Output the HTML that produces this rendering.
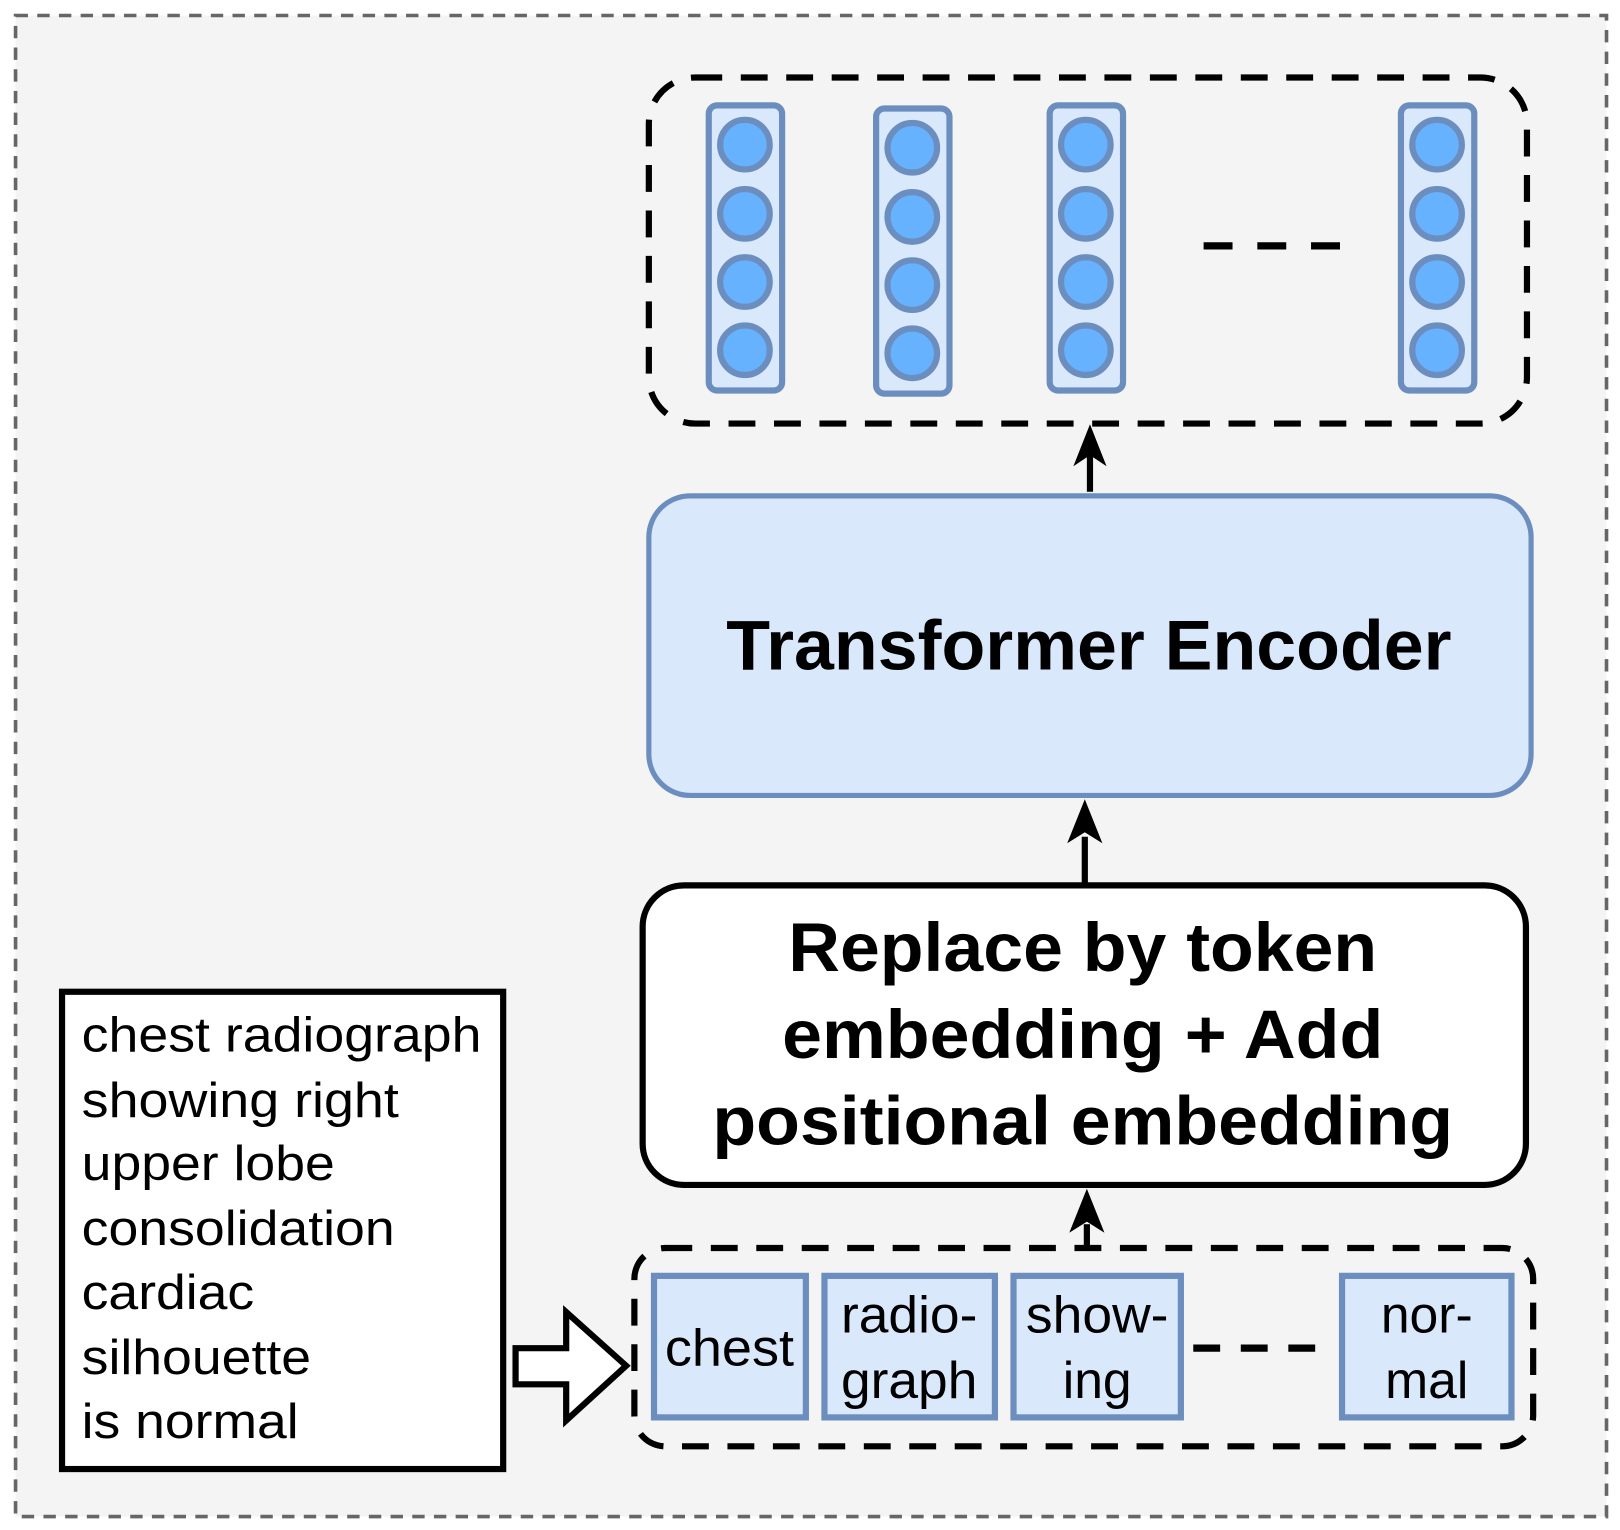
<!DOCTYPE html>
<html><head><meta charset="utf-8"><style>html,body{margin:0;padding:0;background:#fff}svg{display:block}</style></head>
<body>
<svg width="1620" height="1530" viewBox="0 0 1568 1481" xmlns="http://www.w3.org/2000/svg" font-family="Liberation Sans, sans-serif">
<rect x="15" y="15" width="1540" height="1453" fill="#f4f4f4" stroke="#666" stroke-width="3.5" stroke-dasharray="12,9"/>
<rect x="628" y="75" width="850" height="335" rx="45" fill="none" stroke="#000" stroke-width="6" stroke-dasharray="26,18"/>
<g stroke="#6c8ebf" stroke-width="6">
<rect x="686" y="102" width="71" height="276" rx="8" fill="#dae8fc"/>
<rect x="848" y="105" width="71" height="276" rx="8" fill="#dae8fc"/>
<rect x="1016" y="102" width="71" height="276" rx="8" fill="#dae8fc"/>
<rect x="1356" y="102" width="71" height="276" rx="8" fill="#dae8fc"/>
<g fill="#66b2ff">
<circle cx="721" cy="140" r="24"/><circle cx="721" cy="207" r="24"/><circle cx="721" cy="273" r="24"/><circle cx="721" cy="339" r="24"/>
<circle cx="883" cy="143" r="24"/><circle cx="883" cy="210" r="24"/><circle cx="883" cy="276" r="24"/><circle cx="883" cy="342" r="24"/>
<circle cx="1051" cy="140" r="24"/><circle cx="1051" cy="207" r="24"/><circle cx="1051" cy="273" r="24"/><circle cx="1051" cy="339" r="24"/>
<circle cx="1391" cy="140" r="24"/><circle cx="1391" cy="207" r="24"/><circle cx="1391" cy="273" r="24"/><circle cx="1391" cy="339" r="24"/>
</g></g>
<line x1="1165" y1="238" x2="1297" y2="238" stroke="#000" stroke-width="7" stroke-dasharray="28,24"/>
<g stroke="#000" stroke-width="6" fill="#000">
<line x1="1055" y1="476" x2="1055" y2="440"/>
<polygon points="1055,412 1040,450 1055,440 1070,450" stroke-width="1"/>
<line x1="1050" y1="856" x2="1050" y2="810"/>
<polygon points="1050,775 1034,815 1050,805 1066,815" stroke-width="1"/>
<line x1="1052" y1="1208" x2="1052" y2="1185"/>
<polygon points="1052,1152 1036,1192 1052,1182 1068,1192" stroke-width="1"/>
</g>
<rect x="628" y="480" width="854" height="290" rx="40" fill="#dae8fc" stroke="#6c8ebf" stroke-width="5"/>
<text x="1054" y="648" text-anchor="middle" font-size="68" font-weight="bold" textLength="702" lengthAdjust="spacingAndGlyphs">Transformer Encoder</text>
<rect x="622" y="857" width="855" height="290" rx="40" fill="#fff" stroke="#000" stroke-width="6"/>
<g font-size="66" font-weight="bold" text-anchor="middle">
<text x="1048" y="940" textLength="570" lengthAdjust="spacingAndGlyphs">Replace by token</text>
<text x="1048" y="1024" textLength="582" lengthAdjust="spacingAndGlyphs">embedding + Add</text>
<text x="1048" y="1108" textLength="717" lengthAdjust="spacingAndGlyphs">positional embedding</text>
</g>
<rect x="614" y="1208" width="870" height="192" rx="30" fill="none" stroke="#000" stroke-width="6" stroke-dasharray="26,18"/>
<g fill="#dae8fc" stroke="#6c8ebf" stroke-width="6">
<rect x="633" y="1235" width="147" height="137"/>
<rect x="798" y="1235" width="165" height="137"/>
<rect x="981" y="1235" width="162" height="137"/>
<rect x="1299" y="1235" width="164" height="137"/>
</g>
<line x1="1155" y1="1305" x2="1290" y2="1305" stroke="#000" stroke-width="7" stroke-dasharray="26,20"/>
<g font-size="50" text-anchor="middle">
<text x="706" y="1322" textLength="125" lengthAdjust="spacingAndGlyphs">chest</text>
<text x="880" y="1290" textLength="132" lengthAdjust="spacingAndGlyphs">radio-</text><text x="880" y="1353" textLength="132" lengthAdjust="spacingAndGlyphs">graph</text>
<text x="1062" y="1290" textLength="138" lengthAdjust="spacingAndGlyphs">show-</text><text x="1062" y="1353">ing</text>
<text x="1381" y="1290">nor-</text><text x="1381" y="1353">mal</text>
</g>
<rect x="60" y="960" width="427" height="462" fill="#fff" stroke="#000" stroke-width="6"/>
<g font-size="48">
<text x="79" y="1018" textLength="387" lengthAdjust="spacingAndGlyphs">chest radiograph</text>
<text x="79" y="1081" textLength="307" lengthAdjust="spacingAndGlyphs">showing right</text>
<text x="79" y="1142" textLength="245" lengthAdjust="spacingAndGlyphs">upper lobe</text>
<text x="79" y="1205" textLength="303" lengthAdjust="spacingAndGlyphs">consolidation</text>
<text x="79" y="1267" textLength="167" lengthAdjust="spacingAndGlyphs">cardiac</text>
<text x="79" y="1330" textLength="222" lengthAdjust="spacingAndGlyphs">silhouette</text>
<text x="79" y="1392" textLength="210" lengthAdjust="spacingAndGlyphs">is normal</text>
</g>
<polygon points="499,1305 548,1305 548,1270 606,1322 548,1375 548,1340 499,1340" fill="#fff" stroke="#000" stroke-width="6"/>
</svg>
</body></html>
